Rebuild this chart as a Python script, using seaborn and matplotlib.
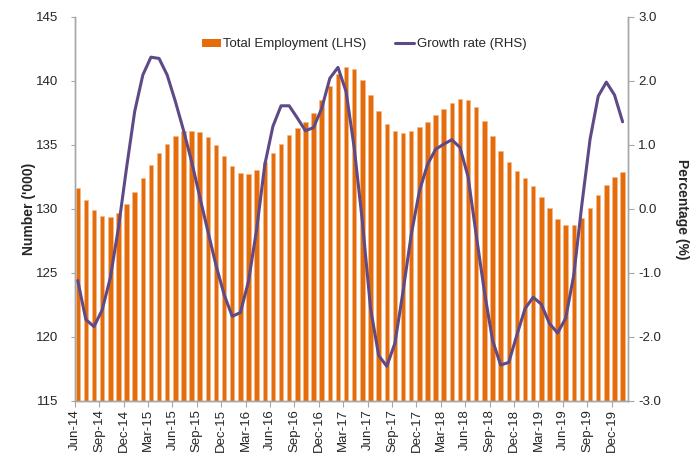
import pandas as pd
import matplotlib.pyplot as plt
import seaborn as sns
from matplotlib.patches import Patch
from matplotlib.lines import Line2D

months = pd.date_range('2014-06-01', '2020-01-01', freq='MS').strftime('%b-%y').tolist()

employment = [131.6, 130.7, 129.9, 129.45, 129.35, 129.7, 130.4, 131.3, 132.4, 133.45,
              134.4, 135.1, 135.7, 136.05, 136.1, 136.0, 135.6, 134.95, 134.15, 133.35,
              132.8, 132.7, 133.0, 133.65, 134.4, 135.1, 135.8, 136.3, 136.8, 137.5,
              138.5, 139.6, 140.55, 141.05, 140.9, 140.1, 138.9, 137.65, 136.65, 136.05,
              135.9, 136.05, 136.4, 136.8, 137.3, 137.8, 138.3, 138.6, 138.5, 137.95,
              136.9, 135.7, 134.5, 133.65, 132.95, 132.4, 131.8, 130.95, 130.05, 129.2,
              128.75, 128.75, 129.25, 130.1, 131.05, 131.9, 132.45, 132.85]

growth = [-1.12, -1.73, -1.84, -1.58, -1.08, -0.3, 0.64, 1.52, 2.09, 2.37,
          2.35, 2.09, 1.68, 1.23, 0.74, 0.19, -0.35, -0.88, -1.34, -1.68,
          -1.62, -1.13, -0.32, 0.69, 1.29, 1.61, 1.61, 1.42, 1.22, 1.27,
          1.57, 2.04, 2.21, 1.83, 0.95, -0.2, -1.55, -2.29, -2.46, -2.1,
          -1.29, -0.41, 0.27, 0.69, 0.93, 1.01, 1.08, 0.96, 0.5, -0.41,
          -1.29, -2.05, -2.44, -2.4, -1.97, -1.56, -1.38, -1.49, -1.79, -1.94,
          -1.71, -1.03, 0.08, 1.09, 1.76, 1.98, 1.78, 1.36]

bar_color = '#E46C0A'
line_color = '#5E4A86'
grey = '#A6A6A6'

sns.set_style('white')
plt.rcParams['font.family'] = ['Liberation Sans', 'DejaVu Sans']

fig, ax = plt.subplots(figsize=(7, 4.55), dpi=100)
fig.subplots_adjust(left=0.107, right=0.897, top=0.963, bottom=0.119)

sns.barplot(x=months, y=employment, ax=ax, color=bar_color, width=0.55,
            saturation=1, edgecolor='#F6B98A', linewidth=0.4)
ax.set_ylim(115, 145)
ax.set_yticks(range(115, 146, 5))
ax.set_xlim(-0.35, len(months) - 0.35)
tick_pos = [i - 0.35 for i in range(0, len(months), 3)]
ax.set_xticks(tick_pos)
ax.set_xticklabels(months[::3], rotation=90, fontsize=9.5)
ax.tick_params(axis='y', labelsize=9.5, length=3, color=grey, direction='out',
               left=True, pad=9)
ax.tick_params(axis='x', length=4, color=grey, direction='out', bottom=True, pad=2)
ax.set_ylabel("Number ('000)", fontsize=10, fontweight='bold')
ax.yaxis.set_label_coords(-0.07, 0.5)

ax2 = ax.twinx()
sns.lineplot(x=list(range(len(growth))), y=growth, ax=ax2, color=line_color, linewidth=2.2)
ax2.set_ylim(-3, 3)
ax2.set_yticks([-3, -2, -1, 0, 1, 2, 3])
ax2.set_yticklabels([f'{v:.1f}' for v in [-3, -2, -1, 0, 1, 2, 3]])
ax2.tick_params(axis='y', labelsize=9.5, length=4, color=grey, direction='out', right=True)
ax2.set_ylabel('Percentage (%)', fontsize=10, fontweight='bold', rotation=270, labelpad=20)
ax2.set_xlim(ax.get_xlim())

for a in (ax, ax2):
    a.spines['top'].set_visible(False)
    for s in ('left', 'right', 'bottom'):
        a.spines[s].set_color(grey)
        a.spines[s].set_linewidth(1)

handles = [Patch(facecolor=bar_color, edgecolor='none'),
           Line2D([], [], color=line_color, linewidth=2.2)]
ax2.legend(handles, ['Total Employment (LHS)', 'Growth rate (RHS)'], loc='center',
           bbox_to_anchor=(0.523, 0.928), ncol=2, frameon=False, fontsize=9.5,
           handlelength=1.4, handleheight=0.6, handletextpad=0.2, columnspacing=2.2)

plt.savefig('out.png', dpi=100)
